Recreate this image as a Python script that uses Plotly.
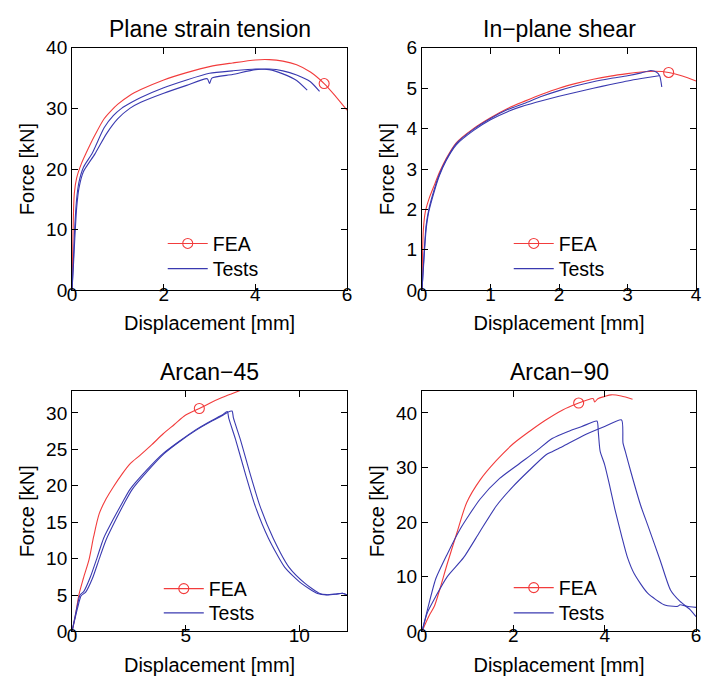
import plotly.graph_objects as go

RED = "#f23c3c"
BLUE = "#3a3ab0"
FONT = "Liberation Sans, Arial, Helvetica, sans-serif"

titles = ["Plane strain tension", "In\u2212plane shear", "Arcan\u221245", "Arcan\u221290"]
x_label = "Displacement [mm]"
y_label = "Force [kN]"
legend_names = ["FEA", "Tests"]

# ---- Plane strain tension ----
pst_fea_x = [0, 0.02, 0.05, 0.1, 0.2, 0.3, 0.5, 0.7, 0.85, 1.0, 1.25, 1.5, 2.0, 2.5, 3.0, 3.5, 4.0, 4.3, 4.6, 4.9, 5.2, 5.5, 5.75, 6.0]
pst_fea_y = [0, 9, 16, 18.5, 20.8, 22.5, 25.6, 28.3, 29.6, 30.7, 32.1, 33.1, 34.7, 35.9, 36.9, 37.5, 38, 38.05, 37.8, 37.2, 36, 34.1, 32, 29.7]
pst_fea_mark = 21
pst_t1_x = [0, 0.03, 0.05, 0.1, 0.15, 0.25, 0.44, 0.7, 0.9, 1.08, 1.3, 1.5, 2.0, 2.5, 3.0, 3.5, 4.0, 4.3, 4.6, 4.9, 5.13]
pst_t1_y = [0, 5, 9, 15, 17.8, 20.3, 22.6, 26.8, 28.8, 30.0, 31.0, 31.8, 33.4, 34.7, 35.8, 36.2, 36.5, 36.4, 35.7, 34.6, 33.0]
pst_t2_x = [0, 0.03, 0.06, 0.1, 0.15, 0.25, 0.5, 0.75, 1.0, 1.26, 1.5, 2.0, 2.5, 2.95, 3.0, 3.05, 3.5, 4.0, 4.3, 4.6, 4.9, 5.2, 5.4]
pst_t2_y = [0, 4, 8.5, 13.5, 16.8, 19.6, 22.5, 25.8, 28.3, 30.0, 31.0, 32.5, 33.8, 34.9, 34.1, 35.0, 35.6, 36.4, 36.5, 36.2, 35.5, 34.4, 32.8]

# ---- In-plane shear ----
ips_fea_x = [0, 0.02, 0.05, 0.1, 0.18, 0.25, 0.35, 0.5, 0.75, 1.0, 1.25, 1.5, 1.75, 2.0, 2.25, 2.5, 2.75, 3.0, 3.2, 3.4, 3.6, 3.8, 4.0]
ips_fea_y = [0, 1.5, 1.95, 2.25, 2.6, 2.9, 3.25, 3.65, 4.0, 4.27, 4.5, 4.68, 4.85, 5.0, 5.12, 5.22, 5.3, 5.36, 5.4, 5.42, 5.39, 5.3, 5.18]
ips_fea_mark = 20
ips_t1_x = [0, 0.03, 0.06, 0.1, 0.18, 0.25, 0.35, 0.5, 0.75, 1.0, 1.25, 1.5, 1.75, 2.0, 2.25, 2.5, 2.75, 3.0, 3.2, 3.34, 3.42, 3.47, 3.5]
ips_t1_y = [0, 0.9, 1.6, 2.0, 2.5, 2.85, 3.22, 3.63, 3.98, 4.25, 4.47, 4.63, 4.8, 4.94, 5.06, 5.16, 5.24, 5.31, 5.38, 5.44, 5.4, 5.3, 5.03]
ips_t2_x = [0, 0.03, 0.06, 0.1, 0.18, 0.25, 0.35, 0.5, 0.75, 1.0, 1.25, 1.5, 1.75, 2.0, 2.25, 2.5, 2.75, 3.0, 3.2, 3.46]
ips_t2_y = [0, 0.8, 1.5, 1.95, 2.45, 2.82, 3.2, 3.6, 3.95, 4.22, 4.42, 4.57, 4.69, 4.8, 4.9, 5.0, 5.09, 5.18, 5.24, 5.31]

# ---- Arcan-45 ----
a45_fea_x = [0, 0.15, 0.3, 0.5, 0.75, 0.95, 1.2, 1.5, 1.83, 2.2, 2.55, 3.0, 3.5, 4.0, 4.5, 5.0, 5.6, 6.1, 6.6, 7.0, 7.5]
a45_fea_y = [0, 2.2, 5.0, 7.3, 9.9, 13.0, 16.2, 18.2, 19.9, 21.6, 23.0, 24.2, 25.6, 27.1, 28.4, 29.7, 30.6, 31.4, 32.1, 32.6, 33.2]
a45_fea_mark = 16
a45_t1_x = [0, 0.23, 0.35, 0.52, 0.81, 1.1, 1.39, 1.83, 2.2, 2.55, 3.27, 4.0, 4.72, 5.45, 6.17, 6.6, 6.83, 6.9, 7.19, 7.62, 8.06, 8.64, 9.36, 10.09, 10.8, 11.2, 11.6, 11.9, 12.1]
a45_t1_y = [0, 3.5, 5.0, 5.5, 7.5, 10.1, 12.8, 15.5, 17.6, 19.5, 22.1, 24.4, 26.1, 27.7, 29.0, 29.7, 30.2, 29.2, 26.4, 21.7, 17.2, 12.8, 8.8, 6.6, 5.2, 5.0, 5.1, 5.25, 5.0]
a45_t2_x = [0, 0.25, 0.4, 0.6, 0.9, 1.2, 1.5, 1.95, 2.3, 2.65, 3.35, 4.05, 4.75, 5.45, 6.17, 6.6, 6.85, 7.04, 7.1, 7.4, 7.83, 8.27, 8.85, 9.55, 10.25, 10.9, 11.2, 11.6, 11.9, 12.1]
a45_t2_y = [0, 3.3, 4.9, 5.4, 7.3, 10.0, 12.6, 15.5, 17.6, 19.5, 22.1, 24.4, 26.1, 27.6, 28.9, 29.6, 30.1, 30.25, 29.3, 26.4, 21.7, 17.2, 12.8, 8.8, 6.6, 5.2, 5.05, 5.15, 5.25, 5.0]

# ---- Arcan-90 ----
a90_fea_x = [0, 0.15, 0.27, 0.4, 0.55, 0.77, 0.98, 1.27, 1.63, 1.99, 2.35, 2.71, 3.07, 3.43, 3.6, 3.75, 3.78, 3.85, 4.0, 4.14, 4.36, 4.61]
a90_fea_y = [0, 2.8, 4.6, 8.0, 12.3, 18.2, 23.6, 27.7, 31.3, 34.3, 36.6, 38.7, 40.5, 41.8, 42.3, 42.6, 42.0, 42.6, 43.0, 43.3, 43.1, 42.5]
a90_fea_mark = 13
a90_t1_x = [0, 0.12, 0.3, 0.55, 0.84, 1.27, 1.7, 2.13, 2.5, 2.85, 3.2, 3.5, 3.83, 3.86, 3.9, 4.0, 4.1, 4.22, 4.37, 4.5, 4.65, 4.94, 5.3, 5.5, 5.6, 5.65, 5.8, 6.0]
a90_t1_y = [0, 4.0, 9.6, 14.1, 18.8, 24.2, 28.0, 30.7, 33.0, 35.3, 36.6, 37.5, 38.5, 36.5, 33.0, 30.5, 27.0, 22.5, 17.5, 13.5, 10.5, 7.0, 4.9, 4.6, 4.6, 4.9, 4.6, 4.4]
a90_t2_x = [0, 0.12, 0.3, 0.55, 0.91, 1.27, 1.63, 1.99, 2.35, 2.71, 2.85, 3.07, 3.57, 4.0, 4.37, 4.4, 4.45, 4.58, 4.79, 4.94, 5.22, 5.44, 5.65, 5.87, 6.0]
a90_t2_y = [0, 3.5, 6.4, 10.0, 13.5, 18.3, 23.0, 26.5, 29.5, 32.3, 32.9, 33.8, 36.0, 37.5, 38.7, 34.5, 33.0, 29.0, 23.0, 19.5, 12.9, 7.6, 5.5, 4.0, 2.7]

x_ranges = [[0, 6], [0, 4], [0, 12.1], [0, 6]]
y_ranges = [[0, 40], [0, 6], [0, 33], [0, 44]]
x_dticks = [2, 1, 5, 2]
y_dticks = [10, 1, 5, 10]

panels = [
    (pst_fea_x, pst_fea_y, pst_fea_mark, [(pst_t1_x, pst_t1_y), (pst_t2_x, pst_t2_y)]),
    (ips_fea_x, ips_fea_y, ips_fea_mark, [(ips_t1_x, ips_t1_y), (ips_t2_x, ips_t2_y)]),
    (a45_fea_x, a45_fea_y, a45_fea_mark, [(a45_t1_x, a45_t1_y), (a45_t2_x, a45_t2_y)]),
    (a90_fea_x, a90_fea_y, a90_fea_mark, [(a90_t1_x, a90_t1_y), (a90_t2_x, a90_t2_y)]),
]

W, H = 704, 689
# plot-area pixel boxes (left, right, top, bottom)
boxes = [(68, 347, 39, 289), (423, 701, 39, 289), (68, 347, 393, 641), (423, 701, 393, 641)]
title_y = [20, 20, 373, 373]
# legend anchor (left x, top of FEA entry, top of Tests entry)
legend_pos = [(160, 221, 247), (511, 221, 247), (156, 577, 602), (511, 576, 602)]

fig = go.Figure()
layout = dict(
    width=W, height=H, margin=dict(l=0, r=0, t=0, b=0),
    paper_bgcolor="white", plot_bgcolor="white", showlegend=True,
    font=dict(family=FONT, size=19, color="black"),
    annotations=[],
)

def legend_box(x, y):
    return dict(x=x / W, y=1 - y / H, xanchor="left", yanchor="top",
                bgcolor="rgba(0,0,0,0)", borderwidth=0,
                font=dict(size=19.5, family=FONT, color="black"),
                tracegroupgap=0, itemwidth=40)

for i, (fx, fy, fm, tests) in enumerate(panels):
    n = "" if i == 0 else str(i + 1)
    xa, ya = "x" + n, "y" + n
    lg_fea = "legend" if i == 0 else "legend" + str(2 * i + 1)
    lg_tst = "legend" + str(2 * i + 2)
    fig.add_trace(go.Scatter(
        x=fx, y=fy, mode="lines+markers", name=legend_names[0], xaxis=xa, yaxis=ya,
        legend=lg_fea, showlegend=True,
        line=dict(color=RED, width=1.1, shape="spline", smoothing=0.8),
        marker=dict(symbol="circle-open", size=10, color=RED, line=dict(width=1.1)),
        selectedpoints=[fm], selected=dict(marker=dict(opacity=1)),
        unselected=dict(marker=dict(opacity=0)),
    ))
    for k, (tx, ty) in enumerate(tests):
        fig.add_trace(go.Scatter(
            x=tx, y=ty, mode="lines", name=legend_names[1], xaxis=xa, yaxis=ya,
            legend=lg_tst, legendgroup="tests" + n, showlegend=(k == 0),
            line=dict(color=BLUE, width=1.1, shape="spline", smoothing=0.6),
        ))
    l, r, t, b = boxes[i]
    axis_common = dict(showline=True, linecolor="black", linewidth=1, mirror="ticks",
                       ticks="inside", ticklen=6, tickcolor="black", showgrid=False,
                       zeroline=False, tickfont=dict(size=19, family=FONT, color="black"))
    layout["xaxis" + n] = dict(domain=[l / W, r / W], anchor=ya, range=x_ranges[i],
                               tick0=0, dtick=x_dticks[i], ticklabelstandoff=-13,
                               title=dict(text=x_label, font=dict(size=20), standoff=12),
                               **axis_common)
    layout["yaxis" + n] = dict(domain=[1 - b / H, 1 - t / H], anchor=xa, range=y_ranges[i],
                               tick0=0, dtick=y_dticks[i],
                               title=dict(text=y_label, font=dict(size=20), standoff=6),
                               **axis_common)
    lx, ly1, ly2 = legend_pos[i]
    layout[lg_fea] = legend_box(lx, ly1)
    layout[lg_tst] = legend_box(lx, ly2)
    layout["annotations"].append(dict(
        text=titles[i], x=(l + r) / 2 / W, y=1 - title_y[i] / H, xref="paper", yref="paper",
        xanchor="center", yanchor="middle", showarrow=False,
        font=dict(size=23, family=FONT, color="black")))

fig.update_layout(**layout)
fig.write_html("out.html")
